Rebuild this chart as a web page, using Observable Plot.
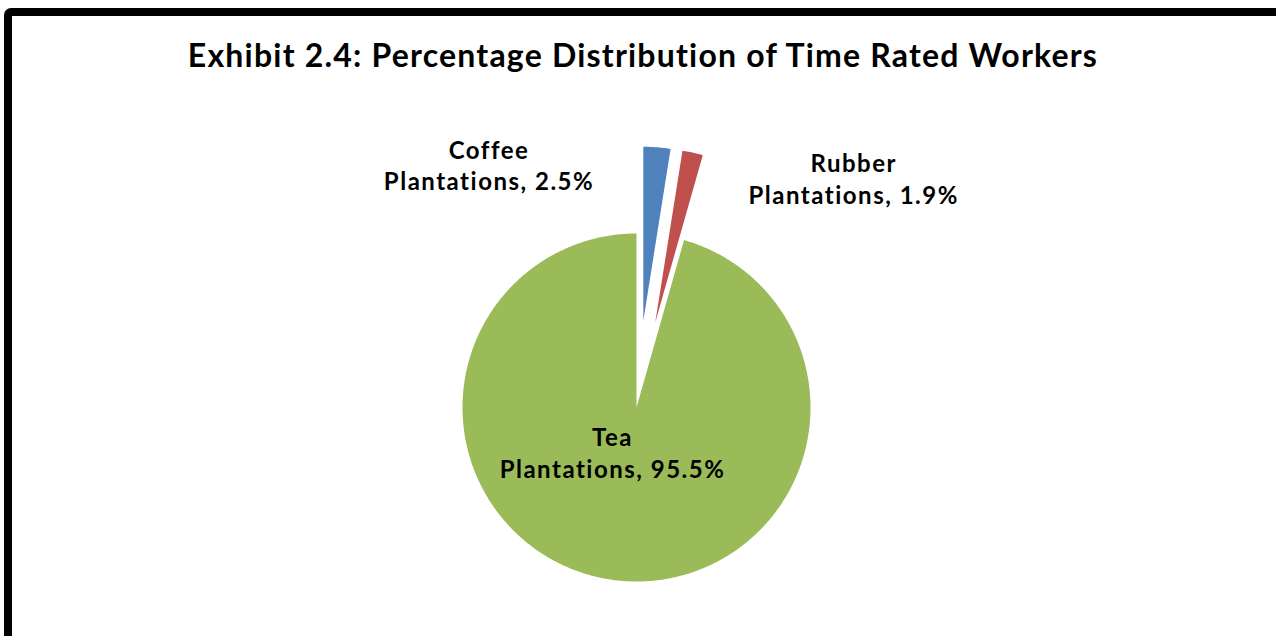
<!DOCTYPE html>
<html>
<head>
<meta charset="utf-8">
<script src="https://cdn.jsdelivr.net/npm/d3@7"></script>
<script src="https://cdn.jsdelivr.net/npm/@observablehq/plot@0.6"></script>
<style>
  html, body { margin: 0; padding: 0; background: #fff; overflow: hidden; }
  #page { position: relative; width: 1276px; height: 636px; overflow: hidden; }
  #frame {
    position: absolute; left: 4px; top: 8px; width: 1290px; height: 650px;
    border: 8px solid #000; border-radius: 7px; box-sizing: border-box;
  }
  #title {
    position: absolute; left: 0; top: 0; width: 1286px; height: 100px;
    text-align: center; font-family: Lato, "Open Sans", sans-serif; font-weight: 700;
    font-size: 32px; line-height: 32px; letter-spacing: 1.2px; padding-top: 39px;
    box-sizing: border-box; color: #000; font-variant-ligatures: none;
  }
  #chart { position: absolute; left: 0; top: 100px; }
  #chart text { font-variant-ligatures: none; letter-spacing: 1.5px; }
</style>
</head>
<body>
<div id="page">
  <div id="frame"></div>
  <div id="title">Exhibit 2.4: Percentage Distribution of Time Rated Workers</div>
  <div id="chart"></div>
</div>
<script>
// Share of time rated workers by plantation type (percent)
const categories = ["Coffee Plantations", "Rubber Plantations", "Tea Plantations"];
const shortNames = ["Coffee", "Rubber", "Tea"];
const shares = [2.5, 1.9, 95.5];
const colors = ["#4F81BD", "#C0504D", "#9BBB59"];

// Pie layout (pixels inside the plot area)
const W = 1276, H = 536;
const cx = 636, cy = 307, R = 174;
const explode = [87, 87, 0];                             // pulled-out distance per slice
const labelOffset = [[-168, 17], [161, 25], [-24, 44]];  // label shift from its anchor
const labelAnchorAtArc = [true, true, false];

const pie = d3.pie().sort(null).startAngle(0).endAngle(2 * Math.PI).value(d => d.value);
const rows = categories.map((c, i) => ({name: c, short: shortNames[i], value: shares[i], i}));
const arcs = pie(rows);

// Outline points for every slice: apex, then along the outer arc
const outline = [];
const labels = [];
for (const a of arcs) {
  const i = a.data.i;
  const mid = (a.startAngle + a.endAngle) / 2;
  const ox = cx + explode[i] * Math.sin(mid);
  const oy = cy - explode[i] * Math.cos(mid);
  outline.push({name: a.data.name, x: ox, y: oy});
  const steps = Math.max(4, Math.ceil((a.endAngle - a.startAngle) / (Math.PI / 360)));
  for (let k = 0; k <= steps; ++k) {
    const t = a.startAngle + (a.endAngle - a.startAngle) * k / steps;
    outline.push({name: a.data.name, x: ox + R * Math.sin(t), y: oy - R * Math.cos(t)});
  }
  outline.push({name: a.data.name, x: ox, y: oy});
  const ax = labelAnchorAtArc[i] ? ox + R * Math.sin(mid) : ox;
  const ay = labelAnchorAtArc[i] ? oy - R * Math.cos(mid) : oy;
  labels.push({
    x: ax + labelOffset[i][0],
    y: ay + labelOffset[i][1],
    text: `${a.data.short}\nPlantations, ${d3.format(".1f")(a.data.value)}%`
  });
}

const chart = Plot.plot({
  width: W,
  height: H,
  margin: 0,
  x: {domain: [0, W], range: [0, W], axis: null},
  y: {domain: [0, H], range: [0, H], axis: null},
  color: {domain: categories, range: colors},
  style: {background: "transparent", overflow: "visible"},
  marks: [
    Plot.line(outline, {x: "x", y: "y", z: "name", fill: "name", stroke: "none"}),
    Plot.text(labels, {
      x: "x", y: "y", text: "text",
      fontFamily: "Lato, 'Open Sans', sans-serif", fontWeight: 700, fontSize: 24,
      lineHeight: 1.33, fill: "#000", textAnchor: "middle"
    })
  ]
});
document.getElementById("chart").appendChild(chart);
</script>
</body>
</html>
